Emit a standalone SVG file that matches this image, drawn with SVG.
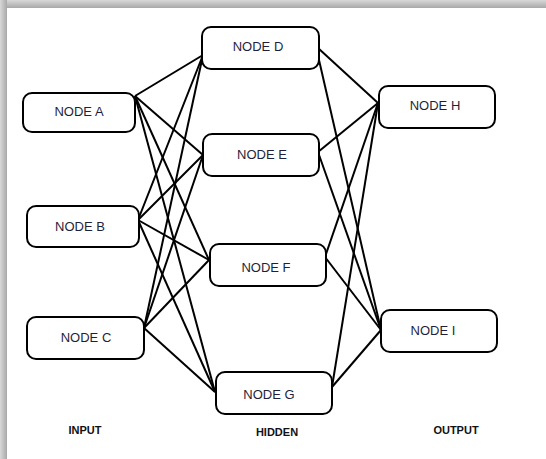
<svg xmlns="http://www.w3.org/2000/svg" width="546" height="459" viewBox="0 0 546 459">
<defs>
<linearGradient id="topShadow" x1="0" y1="0" x2="0" y2="1">
<stop offset="0" stop-color="#d8d8d8"/>
<stop offset="1" stop-color="#a8a8a8"/>
</linearGradient>
<linearGradient id="leftShadow" x1="0" y1="0" x2="1" y2="0">
<stop offset="0" stop-color="#d8d8d8"/>
<stop offset="1" stop-color="#a8a8a8"/>
</linearGradient>
</defs>
<style>
.box{fill:#fff;stroke:#000;stroke-width:2}
.lbl{font-family:"Liberation Sans",Arial,sans-serif;font-size:13px;fill:#1f1f3a;text-anchor:middle;dominant-baseline:central}
.cap{font-family:"Liberation Sans",Arial,sans-serif;font-size:11px;font-weight:bold;fill:#111;text-anchor:middle}
.edge{stroke:#000;stroke-width:2;fill:none}
</style>
<rect x="0" y="0" width="546" height="459" fill="#fff"/>
<rect x="0" y="0" width="546" height="8" fill="url(#topShadow)"/>
<rect x="0" y="0" width="7" height="459" fill="url(#leftShadow)"/>
<g id="connectors">
<line class="edge" x1="135" y1="96" x2="203" y2="55"/>
<line class="edge" x1="135" y1="96" x2="203" y2="155"/>
<line class="edge" x1="135" y1="96" x2="209" y2="260"/>
<line class="edge" x1="135" y1="96" x2="215" y2="392"/>
<line class="edge" x1="138" y1="220" x2="203" y2="55"/>
<line class="edge" x1="138" y1="220" x2="203" y2="155"/>
<line class="edge" x1="138" y1="220" x2="209" y2="260"/>
<line class="edge" x1="138" y1="220" x2="215" y2="392"/>
<line class="edge" x1="144" y1="328" x2="203" y2="55"/>
<line class="edge" x1="144" y1="328" x2="203" y2="155"/>
<line class="edge" x1="144" y1="328" x2="209" y2="260"/>
<line class="edge" x1="144" y1="328" x2="215" y2="392"/>
<line class="edge" x1="318" y1="48" x2="378" y2="103"/>
<line class="edge" x1="319" y1="60" x2="381" y2="330"/>
<line class="edge" x1="318" y1="152" x2="378" y2="103"/>
<line class="edge" x1="318" y1="152" x2="381" y2="330"/>
<line class="edge" x1="325" y1="257" x2="378" y2="103"/>
<line class="edge" x1="325" y1="257" x2="381" y2="330"/>
<line class="edge" x1="332" y1="387" x2="378" y2="103"/>
<line class="edge" x1="332" y1="387" x2="381" y2="330"/>
</g>
<g id="nodeA"><rect class="box" x="23" y="93" width="112" height="39" rx="9"/><text class="lbl" x="79" y="111">NODE A</text></g>
<g id="nodeB"><rect class="box" x="27" y="206" width="112" height="41" rx="9"/><text class="lbl" x="80" y="226">NODE B</text></g>
<g id="nodeC"><rect class="box" x="27" y="317" width="117" height="42" rx="9"/><text class="lbl" x="86" y="337">NODE C</text></g>
<g id="nodeD"><rect class="box" x="202" y="27" width="117" height="42" rx="9"/><text class="lbl" x="258" y="46">NODE D</text></g>
<g id="nodeE"><rect class="box" x="203" y="134" width="116" height="42" rx="9"/><text class="lbl" x="262" y="154">NODE E</text></g>
<g id="nodeF"><rect class="box" x="210" y="244" width="116" height="42" rx="9"/><text class="lbl" x="266" y="267">NODE F</text></g>
<g id="nodeG"><rect class="box" x="216" y="372" width="116" height="42" rx="9"/><text class="lbl" x="269" y="394">NODE G</text></g>
<g id="nodeH"><rect class="box" x="379" y="86" width="116" height="42" rx="9"/><text class="lbl" x="435" y="105">NODE H</text></g>
<g id="nodeI"><rect class="box" x="381" y="310" width="116" height="42" rx="9"/><text class="lbl" x="433" y="330">NODE I</text></g>
<g id="captions">
<text class="cap" x="85" y="434">INPUT</text>
<text class="cap" x="277" y="436">HIDDEN</text>
<text class="cap" x="456" y="434">OUTPUT</text>
</g>
</svg>
